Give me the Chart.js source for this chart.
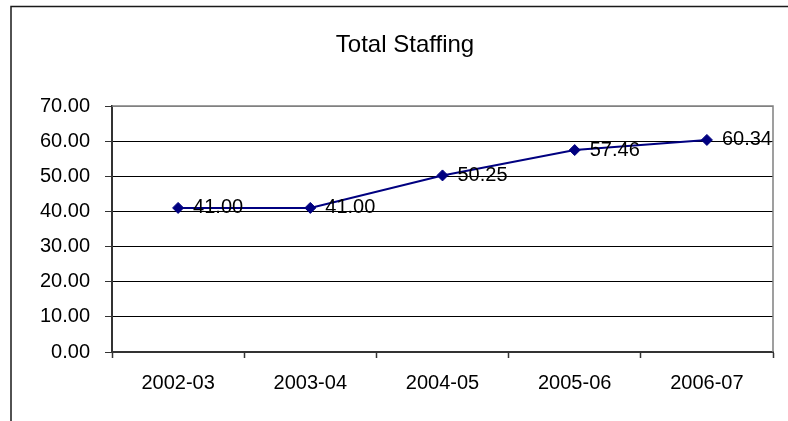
<!DOCTYPE html>
<html>
<head>
<meta charset="utf-8">
<script src="https://cdn.jsdelivr.net/npm/chart.js@4"></script>
<style>
  html, body { margin: 0; padding: 0; background: #fff; }
  #wrap { width: 788px; height: 421px; }
</style>
</head>
<body>
<div id="wrap"><canvas id="c" width="788" height="421"></canvas></div>
<script>
const chartTitle = 'Total Staffing';
const years = ['2002-03', '2003-04', '2004-05', '2005-06', '2006-07'];
const staffing = [41.00, 41.00, 50.25, 57.46, 60.34];
const yTicks = [0, 10, 20, 30, 40, 50, 60, 70];

const FONT = '"Liberation Sans", Arial, sans-serif';

// Outer frame, centred title, grey plot edge and value labels
const decorations = {
  id: 'decorations',
  beforeDraw(chart) {
    const ctx = chart.ctx;
    ctx.save();
    ctx.fillStyle = '#fff';
    ctx.fillRect(0, 0, chart.width, chart.height);
    ctx.strokeStyle = '#1a1a1a';
    ctx.lineWidth = 1.5;
    ctx.beginPath();
    ctx.moveTo(11, chart.height + 2);
    ctx.lineTo(11, 6.5);
    ctx.lineTo(chart.width + 2, 6.5);
    ctx.stroke();
    ctx.fillStyle = '#000';
    ctx.font = '24px ' + FONT;
    ctx.textAlign = 'center';
    ctx.textBaseline = 'alphabetic';
    ctx.fillText(chartTitle, 405, 52);
    ctx.restore();
  },
  afterDatasetsDraw(chart) {
    const ctx = chart.ctx;
    const area = chart.chartArea;
    ctx.save();
    ctx.strokeStyle = '#808080';
    ctx.lineWidth = 1.5;
    ctx.beginPath();
    ctx.moveTo(area.left, area.top);
    ctx.lineTo(area.right, area.top);
    ctx.lineTo(area.right, area.bottom);
    ctx.stroke();
    ctx.fillStyle = '#000';
    ctx.font = '20px ' + FONT;
    ctx.textAlign = 'left';
    ctx.textBaseline = 'middle';
    chart.getDatasetMeta(0).data.forEach((pt, i) => {
      ctx.fillText(staffing[i].toFixed(2), pt.x + 15, pt.y);
    });
    ctx.restore();
  }
};

new Chart(document.getElementById('c'), {
  type: 'line',
  data: {
    labels: years,
    datasets: [{
      data: staffing,
      borderColor: '#000080',
      backgroundColor: '#000080',
      borderWidth: 2,
      pointStyle: 'rectRot',
      pointRadius: 5.5,
      pointHoverRadius: 5.5,
      pointBorderWidth: 1,
      tension: 0,
      clip: false
    }]
  },
  options: {
    responsive: false,
    animation: false,
    events: [],
    layout: { padding: { left: 12, right: 15, top: 106, bottom: 0 } },
    plugins: {
      legend: { display: false },
      title: { display: false },
      tooltip: { enabled: false }
    },
    scales: {
      x: {
        type: 'category',
        offset: true,
        afterFit(s) { s.height = 69; },
        grid: {
          offset: true,
          drawOnChartArea: false,
          drawTicks: true,
          tickLength: 6,
          tickColor: '#333',
          tickWidth: 1.5
        },
        border: { color: '#333', width: 2 },
        ticks: {
          color: '#000',
          font: { family: FONT, size: 20 },
          padding: 13,
          maxRotation: 0,
          autoSkip: false
        }
      },
      y: {
        min: 0,
        max: 70,
        afterFit(s) { s.width = 100; },
        afterBuildTicks(s) { s.ticks = yTicks.map(v => ({ value: v })); },
        grid: {
          color: ctx => (ctx.tick && ctx.tick.value === 70) ? '#808080' : '#000',
          lineWidth: 1,
          tickLength: 7,
          tickColor: '#333',
          drawTicks: true
        },
        border: { color: '#333', width: 2 },
        ticks: {
          color: '#000',
          font: { family: FONT, size: 20 },
          padding: 15,
          callback: v => Number(v).toFixed(2)
        }
      }
    }
  },
  plugins: [decorations]
});
</script>
</body>
</html>
